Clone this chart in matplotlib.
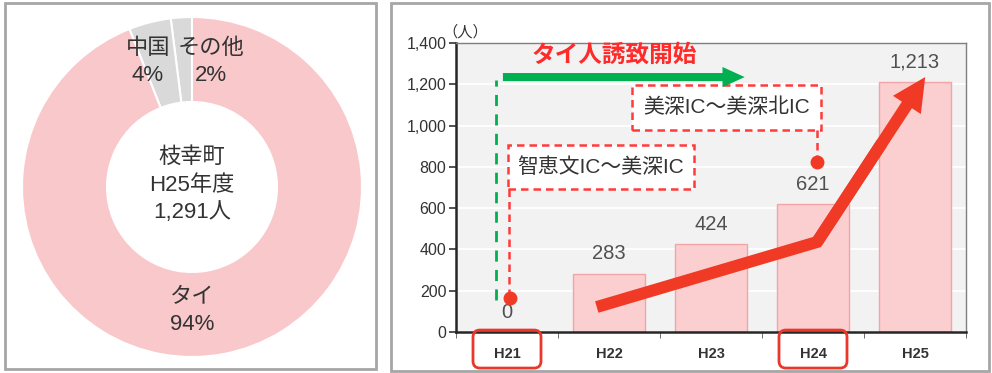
import matplotlib.pyplot as plt
import numpy as np
from matplotlib.patches import FancyArrowPatch, FancyBboxPatch, Rectangle, ArrowStyle
from matplotlib.transforms import ScaledTranslation, blended_transform_factory

plt.rcParams['font.family'] = ['Liberation Sans', 'Noto Sans CJK JP', 'DejaVu Sans']

# H25 visitor share by country
share_labels = ['その他', '中国', 'タイ']
share_values = [2, 4, 94]
share_colors = ['#D9D9D9', '#D9D9D9', '#F9C8CA']

# visitors per fiscal year
years = ['H21', 'H22', 'H23', 'H24', 'H25']
visitors = [0, 283, 424, 621, 1213]
yticks = [0, 200, 400, 600, 800, 1000, 1200, 1400]

W, H = 992, 373
fig = plt.figure(figsize=(W / 100, H / 100), dpi=100)


def px_axes(x0, y0, x1, y1):
    return fig.add_axes([x0 / W, (H - y1) / H, (x1 - x0) / W, (y1 - y0) / H])


# panel frames
for x0, y0, x1, y1 in [(5, 3, 376, 369), (391, 3, 989, 371)]:
    fig.add_artist(Rectangle((x0 / W, (H - y1) / H), (x1 - x0) / W, (y1 - y0) / H,
                             transform=fig.transFigure, fill=False,
                             edgecolor='#A6A6A6', linewidth=2))

# ---- donut ----
ax1 = px_axes(22, 17, 362, 357)
ax1.pie(share_values, colors=share_colors, startangle=90, counterclock=True,
        radius=1, wedgeprops=dict(width=0.5, edgecolor='white', linewidth=1.5))
ax1.set_xlim(-1, 1)
ax1.set_ylim(-1, 1)
ax1.set_aspect('equal')

txt = dict(ha='center', va='center', fontsize=16, color='#333333', linespacing=1.4)
ax1.text(-0.26, 0.735, '中国\n4%', **txt)
ax1.text(0.11, 0.735, 'その他\n2%', **txt)
ax1.text(0.0, -0.73, 'タイ\n94%', **txt)
ax1.text(0.0, 0.01, '枝幸町\nH25年度\n1,291人', **txt)

# ---- bar chart ----
ax2 = px_axes(456, 43, 966, 332)
x = np.arange(len(years))
ax2.set_facecolor('#F2F2F2')
ax2.bar(x, visitors, width=0.7, color='#FBCFD0', edgecolor='#F2A4A6',
        linewidth=1, zorder=2)
ax2.set_xlim(-0.5, 4.5)
ax2.set_ylim(0, 1400)
ax2.set_yticks(yticks)
ax2.set_yticklabels([f'{v:,}' for v in yticks], fontsize=11.5, color='#333333')
ax2.yaxis.grid(True, color='white', linewidth=1.3)
ax2.set_axisbelow(True)
ax2.tick_params(axis='y', length=5, width=1.2, pad=2, color='#333333')

ax2.set_xticks(x)
ax2.set_xticklabels(years, fontsize=10.5, fontweight='bold', color='#333333')
ax2.set_xticks(np.arange(len(years) + 1) - 0.5, minor=True)
ax2.tick_params(axis='x', which='major', length=0, pad=11)
ax2.tick_params(axis='x', which='minor', length=4, color='#555555')

for side in ('left', 'bottom'):
    ax2.spines[side].set_color('#262626')
    ax2.spines[side].set_linewidth(1.8)
for side in ('top', 'right'):
    ax2.spines[side].set_color('#7F7F7F')
    ax2.spines[side].set_linewidth(1)

for xi, v in zip(x, visitors):
    ax2.text(xi, v + 95, f'{v:,}', ha='center', va='center', fontsize=14.5,
             color='#505050', zorder=5)

ax2.text(0.018, 1.038, '（人）', transform=ax2.transAxes, ha='center', va='center',
         fontsize=11, color='#333333')

red = '#F03A26'
green = '#00B050'

# campaign start marker
ax2.text(1.05, 1342, 'タイ人誘致開始', ha='center', va='center', fontsize=17,
         fontweight='bold', color='#FF2A2A', zorder=6)
ax2.add_patch(FancyArrowPatch((-0.04, 1235), (2.33, 1235),
                              arrowstyle=ArrowStyle.Simple(head_length=0.55, head_width=0.5,
                                                           tail_width=0.2),
                              mutation_scale=29, color=green, linewidth=0,
                              shrinkA=0, shrinkB=0, zorder=6))
ax2.plot([-0.11, -0.11], [155, 1220], color=green, linewidth=2,
         linestyle=(0, (4, 3)), zorder=4)

# expressway openings
box_kw = dict(facecolor='white', edgecolor='#FF3B3B', linewidth=1.8,
              linestyle=(0, (3, 2)), zorder=4)
ax2.add_patch(Rectangle((0.01, 693), 1.82, 213, **box_kw))
ax2.text(0.92, 800, '智恵文IC～美深IC', ha='center', va='center', fontsize=15,
         color='#333333', zorder=5)
ax2.plot([0.02, 0.02], [693, 165], color='#FF3B3B', linewidth=1.8,
         linestyle=(0, (3, 2)), zorder=4)
ax2.plot([0.03], [165], 'o', color=red, markersize=9, zorder=5)

ax2.add_patch(Rectangle((1.23, 979), 1.85, 218, **box_kw))
ax2.text(2.15, 1088, '美深IC～美深北IC', ha='center', va='center', fontsize=15,
         color='#333333', zorder=5)
ax2.plot([3.04, 3.04], [979, 823], color='#FF3B3B', linewidth=1.8,
         linestyle=(0, (3, 2)), zorder=4)
ax2.plot([3.04], [823], 'o', color=red, markersize=9, zorder=5)

# growth trend arrow
start, bend, tip = (0.88, 121), (3.04, 436), (4.10, 1235)
mid = (bend[0] + 0.6 * (tip[0] - bend[0]), bend[1] + 0.6 * (tip[1] - bend[1]))
ax2.plot([start[0], bend[0], mid[0]], [start[1], bend[1], mid[1]], color=red,
         linewidth=8.6, solid_capstyle='butt', solid_joinstyle='miter', zorder=7)
ax2.add_patch(FancyArrowPatch(bend, tip,
                              arrowstyle=ArrowStyle.Simple(head_length=0.6, head_width=0.6,
                                                           tail_width=0.215),
                              mutation_scale=40, color=red, linewidth=0,
                              shrinkA=0, shrinkB=0, zorder=7))

# highlight boxes around H21 and H24
base = blended_transform_factory(ax2.transData, ax2.transAxes)
for i in (0, 3):
    tr = fig.dpi_scale_trans + ScaledTranslation(x[i], -0.059, base)
    fig.add_artist(FancyBboxPatch((-0.34, -0.19), 0.68, 0.38,
                                  boxstyle='round,pad=0,rounding_size=0.07',
                                  transform=tr, facecolor='none', edgecolor='#E8382A',
                                  linewidth=2))

fig.savefig('out.png', dpi=100)
